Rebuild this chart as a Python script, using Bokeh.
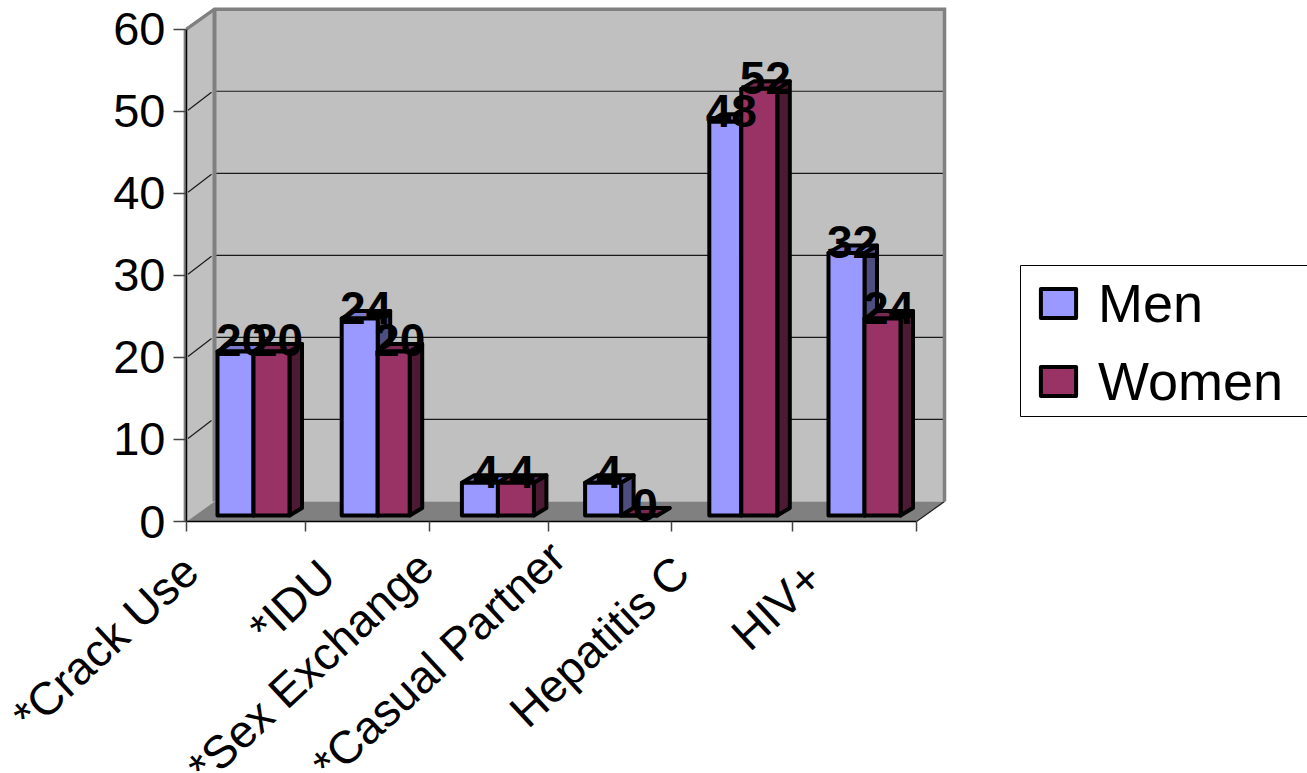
from bokeh.plotting import figure
from bokeh.models import ColumnDataSource, FixedTicker, Legend, LegendItem, Range1d
from bokeh.core.properties import value
from bokeh.embed import file_html
from bokeh.resources import INLINE
import math

# ---- data ----
categories = ["*Crack Use", "*IDU", "*Sex Exchange", "*Casual Partner", "Hepatitis C", "HIV+"]
men = [20, 24, 4, 4, 48, 32]
women = [20, 20, 4, 0, 52, 24]
y_ticks = [0, 10, 20, 30, 40, 50, 60]
wall_grid = [10, 20, 30, 40, 50]

# ---- layout constants ----
SX, SY = 121.67, 8.205           # pixels per x slot, per y unit
def ox(px): return px / SX
def oy(px): return px / SY
WALL_DX, WALL_DY = ox(28), oy(20)
BAR_DX, BAR_DY = ox(12.5), oy(7.5)
BAR_LIFT = oy(6)
BAR_START, BAR_STEP = ox(31), ox(122.2)
slot_nudge = [0, 2, 0, 1, 3, 0]       # px, the chart's own rounding of slots
men_w_px = [36, 36, 36, 36, 32, 36]
wom_w_px = [36, 32, 36, 36, 36, 36]
x_tick_pos = [0, 0.978, 1.997, 2.975, 3.99, 4.98, 6]
label_end_px = [(190, 563), (327, 568), (425, 559), (557, 549), (681, 564), (814, 570)]

COL_WALL, COL_FLOOR, COL_EDGE = "#C0C0C0", "#808080", "#808080"
MEN_F, MEN_S, MEN_T = "#9999FF", "#4D4D80", "#7A7ACC"
WOM_F, WOM_S, WOM_T = "#993366", "#4D1A33", "#7A2952"
FONT = "Liberation Sans"

p = figure(width=1307, height=773, output_backend="svg", toolbar_location=None,
           x_range=Range1d(-ox(186), ox(1307 - 186)), y_range=Range1d(-oy(773 - 521), oy(521)),
           min_border_left=0, min_border_right=0, min_border_top=0, min_border_bottom=0,
           outline_line_color=None, background_fill_color="white")
p.grid.visible = False

# walls and floor
p.patch([0, WALL_DX, WALL_DX, 0], [0, WALL_DY, 60 + WALL_DY, 60], fill_color=COL_WALL, line_color=None)
p.patch([WALL_DX, 6 + WALL_DX, 6 + WALL_DX, WALL_DX], [WALL_DY, WALL_DY, 60 + WALL_DY, 60 + WALL_DY],
        fill_color=COL_WALL, line_color=None)
p.patch([0, 6, 6 + WALL_DX, WALL_DX], [0, 0, WALL_DY, WALL_DY], fill_color=COL_FLOOR, line_color=None)

# gridlines on back and side wall
p.segment([WALL_DX] * 5, [v + WALL_DY for v in wall_grid], [6 + WALL_DX] * 5, [v + WALL_DY for v in wall_grid],
          line_color="#1a1a1a", line_width=1.2)
p.segment([ox(1.5)] * 5, [v + oy(1) for v in wall_grid], [WALL_DX - ox(3)] * 5, [v + WALL_DY - oy(1) for v in wall_grid],
          line_color="#1a1a1a", line_width=1.2)
p.segment([6], [0], [6 + WALL_DX], [WALL_DY], line_color="#1a1a1a", line_width=1.2)

# wall edges
p.line([0, WALL_DX, 6 + WALL_DX, 6 + WALL_DX], [60, 60 + WALL_DY, 60 + WALL_DY, WALL_DY],
       line_color=COL_EDGE, line_width=3.5, line_join="miter")
p.line([WALL_DX, WALL_DX], [WALL_DY, 60 + WALL_DY], line_color=COL_EDGE, line_width=4)
p.line([-ox(1.6), -ox(1.6)], [0, 60], line_color=COL_EDGE, line_width=2.5)

# bars
def draw_series(vals, lefts, widths, fc, sc, tc):
    rights = [l + w for l, w in zip(lefts, widths)]
    tops = [v + BAR_LIFT for v in vals]
    side_x = [[r, r + BAR_DX, r + BAR_DX, r] for r in rights]
    side_y = [[BAR_LIFT, BAR_LIFT + BAR_DY, t + BAR_DY, t] for t in tops]
    top_x = [[l, l + BAR_DX, r + BAR_DX, r] for l, r in zip(lefts, rights)]
    top_y = [[t, t + BAR_DY, t + BAR_DY, t] for t in tops]
    kw = dict(line_color="black", line_width=4, line_join="round")
    p.patches(side_x, side_y, fill_color=sc, **kw)
    p.patches(top_x, top_y, fill_color=tc, **kw)
    return p.quad(left=lefts, right=rights, bottom=[BAR_LIFT] * len(vals), top=tops, fill_color=fc, **kw)

men_left = [BAR_START + BAR_STEP * i + ox(slot_nudge[i]) for i in range(len(men))]
men_w = [ox(w) for w in men_w_px]
wom_left = [l + w for l, w in zip(men_left, men_w)]
wom_w = [ox(w) for w in wom_w_px]
men_front = draw_series(men, men_left, men_w, MEN_F, MEN_S, MEN_T)
wom_front = draw_series(women, wom_left, wom_w, WOM_F, WOM_S, WOM_T)

# data labels
for vals, lefts, widths in ((men, men_left, men_w), (women, wom_left, wom_w)):
    src = ColumnDataSource(dict(x=[l + w / 2 + ox(6) for l, w in zip(lefts, widths)],
                                y=[v + BAR_LIFT + oy(11) for v in vals],
                                t=[str(v) for v in vals]))
    p.text("x", "y", text="t", source=src, text_font=value(FONT), text_font_style="bold",
           text_font_size="46px", text_color="black", text_align="center", text_baseline="middle")

# axes
ya = p.yaxis[0]
ya.fixed_location = 0
ya.bounds = (0, 60)
ya.ticker = FixedTicker(ticks=y_ticks)
ya.axis_line_color = "black"
ya.axis_line_width = 1.5
ya.major_tick_line_color = "#444444"
ya.major_tick_line_width = 1.5
ya.major_tick_in = 0
ya.major_tick_out = 13
ya.minor_tick_line_color = None
ya.major_label_standoff = 8
ya.major_label_text_font = FONT
ya.major_label_text_font_size = "47px"
ya.major_label_text_color = "black"

xa = p.xaxis[0]
xa.fixed_location = 0
xa.bounds = (0, 6)
xa.ticker = FixedTicker(ticks=x_tick_pos)
xa.axis_line_color = "black"
xa.axis_line_width = 1.5
xa.major_tick_line_color = "#444444"
xa.major_tick_line_width = 1.5
xa.major_tick_in = 0
xa.major_tick_out = 10
xa.minor_tick_line_color = None
xa.major_label_text_font_size = "0px"
xa.major_label_text_color = None

# category labels
cat_src = ColumnDataSource(dict(x=[ox(px - 186) for px, _ in label_end_px],
                                y=[oy(521 - py) for _, py in label_end_px],
                                t=categories))
p.text("x", "y", text="t", source=cat_src, angle=math.radians(43), text_font=value(FONT),
       text_font_size="46px", text_color="black", text_align="right", text_baseline="middle")

# legend box, then the legend itself inside it
p.quad(left=[ox(1020 - 186)], right=[ox(1330 - 186)], bottom=[oy(521 - 416)], top=[oy(521 - 265)],
       fill_color="white", line_color="black", line_width=1)
legend = Legend(items=[LegendItem(label="Men", renderers=[men_front]),
                       LegendItem(label="Women", renderers=[wom_front])],
                location=(1036, 361), orientation="vertical", margin=0, padding=0,
                glyph_width=44, glyph_height=36, label_standoff=18, label_height=44, label_width=200,
                spacing=16, border_line_color=None, background_fill_alpha=0,
                label_text_font=FONT, label_text_font_size="54px", label_text_color="black")
p.add_layout(legend, "center")

open("out.html", "w").write(file_html(p, INLINE))
